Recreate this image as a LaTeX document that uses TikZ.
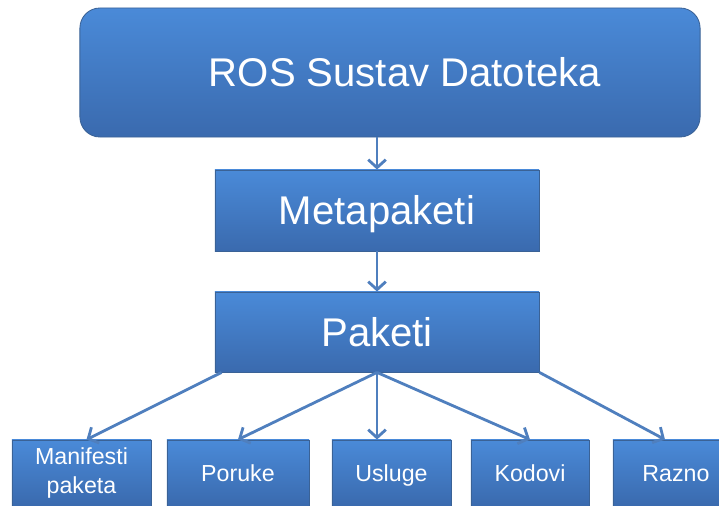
\documentclass[tikz,border=0pt]{standalone}
\usepackage{fontspec}
\setmainfont{Liberation Sans}
\usepackage{tikz}
\usetikzlibrary{calc,arrows.meta}

\definecolor{boxtop}{HTML}{4A8AD8}
\definecolor{boxbot}{HTML}{3A6AAE}
\definecolor{boxline}{HTML}{3A6296}
\definecolor{arrowblue}{HTML}{4F7FBE}

\tikzset{
  bluebox/.style={draw=boxline, line width=0.6pt, top color=boxtop, bottom color=boxbot,
    text=white, inner sep=0pt, align=center},
  bigtext/.style={font=\fontsize{28.5}{32}\selectfont, text height=24pt, text depth=3.6pt},
  smalltext/.style={font=\fontsize{16.5}{20}\selectfont},
  oneline/.style={text height=14pt, text depth=2.2pt},
  arr/.style={draw=arrowblue, line width=2pt, -{Straight Barb[length=2mm,width=4.4mm,line width=2pt]}}
}

\begin{document}
\begin{tikzpicture}[x=0.025cm,y=-0.025cm]
\useasboundingbox (0,0) rectangle (719,506);
\clip (0,0) rectangle (719,506);

\node (ros) at (390,72.5) [bluebox, bigtext, rounded corners=0.5cm,
  minimum width=15.5cm, minimum height=3.225cm] {\hspace*{0.75cm}ROS Sustav Datoteka};
\node (meta) at (377,210.5) [bluebox, bigtext, minimum width=8.1cm, minimum height=2.025cm] {Metapaketi};
\node (paketi) at (377,332) [bluebox, bigtext, minimum width=8.1cm, minimum height=2cm] {Paketi};

\node (manifesti) at (81.5,473) [bluebox, smalltext, minimum width=3.475cm, minimum height=1.65cm] {Manifesti\\paketa};
\node (poruke) at (238,473) [bluebox, smalltext, oneline, minimum width=3.55cm, minimum height=1.65cm] {Poruke};
\node (usluge) at (391.5,473) [bluebox, smalltext, oneline, minimum width=2.975cm, minimum height=1.65cm] {Usluge};
\node (kodovi) at (530,473) [bluebox, smalltext, oneline, minimum width=2.95cm, minimum height=1.65cm] {Kodovi};
\node (razno) at (676,473) [bluebox, smalltext, oneline, minimum width=3.15cm, minimum height=1.65cm] {Razno};

\draw[arr] (meta.north |- ros.south) -- (meta.north);
\draw[arr] (meta.south) -- (paketi.north);

\draw[arr] ($(paketi.south west)+(7,0)$) -- ($(manifesti.north)+(5,0)$);
\draw[arr] (paketi.south) -- (poruke.north);
\draw[arr] (paketi.south) -- (paketi.south |- usluge.north);
\draw[arr] (paketi.south) -- (kodovi.north);
\draw[arr] (paketi.south east) -- ($(razno.north)+(-11,0)$);

\end{tikzpicture}
\end{document}
